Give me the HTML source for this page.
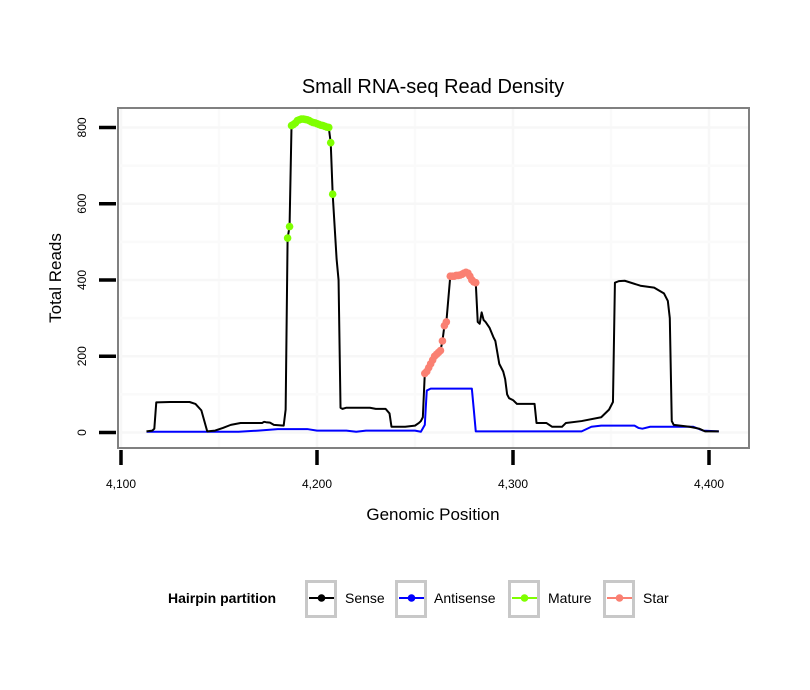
<!DOCTYPE html>
<html><head><meta charset="utf-8"><style>
body{margin:0;background:#fff;font-family:"Liberation Sans",sans-serif}
svg{display:block}
</style></head><body>
<svg id="chart" width="810" height="690" xmlns="http://www.w3.org/2000/svg"></svg>
<script>
const xTicks=[4100,4200,4300,4400];
const yTicks=[0,200,400,600,800];
const sensePos=[4113,4116,4117,4118,4125,4135,4138,4141,4144,4148,4152,4156,4161,4172,4173,4174,4176,4178,4183,4184,4185,4186,4187,4188,4189,4190,4191,4192,4193,4194,4195,4196,4197,4198,4199,4200,4201,4202,4203,4204,4205,4206,4207,4208,4210,4211,4212,4213,4215,4227,4230,4235,4237,4238,4245,4250,4252,4253,4254,4255,4256,4257,4258,4259,4260,4261,4262,4263,4264,4265,4266,4268,4269,4270,4271,4272,4273,4274,4275,4276,4277,4278,4279,4280,4281,4282,4283,4284,4285,4286,4288,4290,4291,4292,4293,4295,4296,4297,4298,4300,4302,4311,4312,4317,4320,4325,4327,4335,4345,4349,4351,4352,4354,4357,4365,4372,4377,4379,4380,4381,4382,4390,4395,4398,4405];
const senseVal=[3,5,10,79,80,80,75,58,3,5,12,20,25,25,28,27,26,20,18,60,510,540,805,808,812,818,820,822,822,821,820,818,815,813,812,810,808,806,805,803,801,800,760,625,455,400,65,62,65,65,62,62,50,15,15,18,25,30,40,155,160,170,180,190,200,205,210,215,240,280,290,410,410,410,412,412,413,415,418,420,418,410,400,395,393,290,285,315,295,290,275,250,240,210,180,160,140,100,90,85,75,75,25,25,15,15,25,30,40,60,80,393,397,398,385,380,365,345,300,30,20,15,10,3,3];
const antiPos=[4113,4160,4170,4180,4195,4200,4215,4220,4225,4250,4253,4255,4256,4258,4279,4280,4281,4335,4340,4345,4362,4364,4366,4370,4392,4397,4405];
const antiVal=[2,2,5,9,9,5,5,2,5,5,2,20,110,115,115,60,3,3,15,18,18,12,10,15,15,5,3];
const maturePos=[4185,4186,4187,4188,4189,4190,4191,4192,4193,4194,4195,4196,4197,4198,4199,4200,4201,4202,4203,4204,4205,4206,4207,4208];
const matureVal=[510,540,805,808,812,818,820,822,822,821,820,818,815,813,812,810,808,806,805,803,801,800,760,625];
const starPos=[4255,4256,4257,4258,4259,4260,4261,4262,4263,4264,4265,4266,4268,4269,4270,4271,4272,4273,4274,4275,4276,4277,4278,4279,4280,4281];
const starVal=[155,160,170,180,190,200,205,210,215,240,280,290,410,410,410,412,412,413,415,418,420,418,410,400,395,393];

const NS="http://www.w3.org/2000/svg";
const svg=document.getElementById('chart');
const X=v=>121+(v-4100)*1.96;
const Y=v=>432.5-v*0.3813;
function mk(tag,attrs,parent){const e=document.createElementNS(NS,tag);for(const k in attrs)e.setAttribute(k,attrs[k]);(parent||svg).appendChild(e);return e;}

const panel=mk('rect',{x:118,y:108,width:631,height:340,fill:'#fff',stroke:'none'});


const grid=mk('g',{stroke:'#f7f7f7','stroke-width':2.5});


[4150,4250,4350].forEach(v=>mk('line',{x1:X(v),x2:X(v),y1:108,y2:448,stroke:'#fafafa'},grid));
xTicks.forEach(v=>mk('line',{x1:X(v),x2:X(v),y1:108,y2:448},grid));
[100,300,500,700].forEach(v=>mk('line',{x1:118,x2:749,y1:Y(v),y2:Y(v),stroke:'#fafafa'},grid));
yTicks.forEach(v=>mk('line',{x1:118,x2:749,y1:Y(v),y2:Y(v)},grid));

function line(pos,val,color,name){
  const p=mk('polyline',{points:pos.map((v,i)=>X(v)+','+Y(val[i])).join(' '),fill:'none',stroke:color,'stroke-width':2,'stroke-linejoin':'round'});
  
  
}
line(antiPos,antiVal,'#0000ff','antisense-line');
line(sensePos,senseVal,'#000','sense-line');
function pts(pos,val,color,name){
  const g=mk('g',{fill:color});
  
  
  pos.forEach((v,i)=>{const c=mk('circle',{cx:X(v),cy:Y(val[i]),r:3.8},g);
    
    });
}
pts(maturePos,matureVal,'#7fff00','mature-points');
pts(starPos,starVal,'#fa8072','star-points');

const border=mk('rect',{x:118,y:108,width:631,height:340,fill:'none',stroke:'#808080','stroke-width':2});



yTicks.forEach(v=>{
  mk('line',{x1:99,x2:116,y1:Y(v),y2:Y(v),stroke:'#000','stroke-width':3.5});
  const t=mk('text',{x:0,y:0,transform:`translate(86,${Y(v)}) rotate(-90)`,'text-anchor':'middle','font-size':12,fill:'#000'});
  t.textContent=v;
  
  
});
xTicks.forEach(v=>{
  mk('line',{x1:X(v),x2:X(v),y1:450,y2:465,stroke:'#000','stroke-width':3.5});
  const t=mk('text',{x:X(v),y:488,'text-anchor':'middle','font-size':12,fill:'#000'});
  t.textContent=v.toLocaleString('en-US');
  
  
});
function txt(s,attrs,name){const t=mk('text',attrs);t.textContent=s;
  
  return t;}
txt('Small RNA-seq Read Density',{x:433,y:93,'text-anchor':'middle','font-size':20},'chart-title');
txt('Genomic Position',{x:433,y:520,'text-anchor':'middle','font-size':17},'x-axis-title');
txt('Total Reads',{x:0,y:0,transform:'translate(61,278) rotate(-90)','text-anchor':'middle','font-size':17},'y-axis-title');

txt('Hairpin partition',{x:168,y:603,'font-size':14,'font-weight':'bold'},'legend-title');
const legend=[['Sense','#000',305,345],['Antisense','#0000ff',395,434],['Mature','#7fff00',508,548],['Star','#fa8072',603,643]];
legend.forEach(([lab,col,bx,tx])=>{
  const g=mk('g',{});
  
  
  mk('rect',{x:bx+1.5,y:581.5,width:29,height:35,fill:'#fff',stroke:'#c8c8c8','stroke-width':3},g);
  mk('line',{x1:bx+4,x2:bx+29,y1:598,y2:598,stroke:col,'stroke-width':2},g);
  mk('circle',{cx:bx+16.5,cy:598,r:3.8,fill:col},g);
  const t=mk('text',{x:tx,y:603,'font-size':14},g);t.textContent=lab;
});
</script>
</body></html>
